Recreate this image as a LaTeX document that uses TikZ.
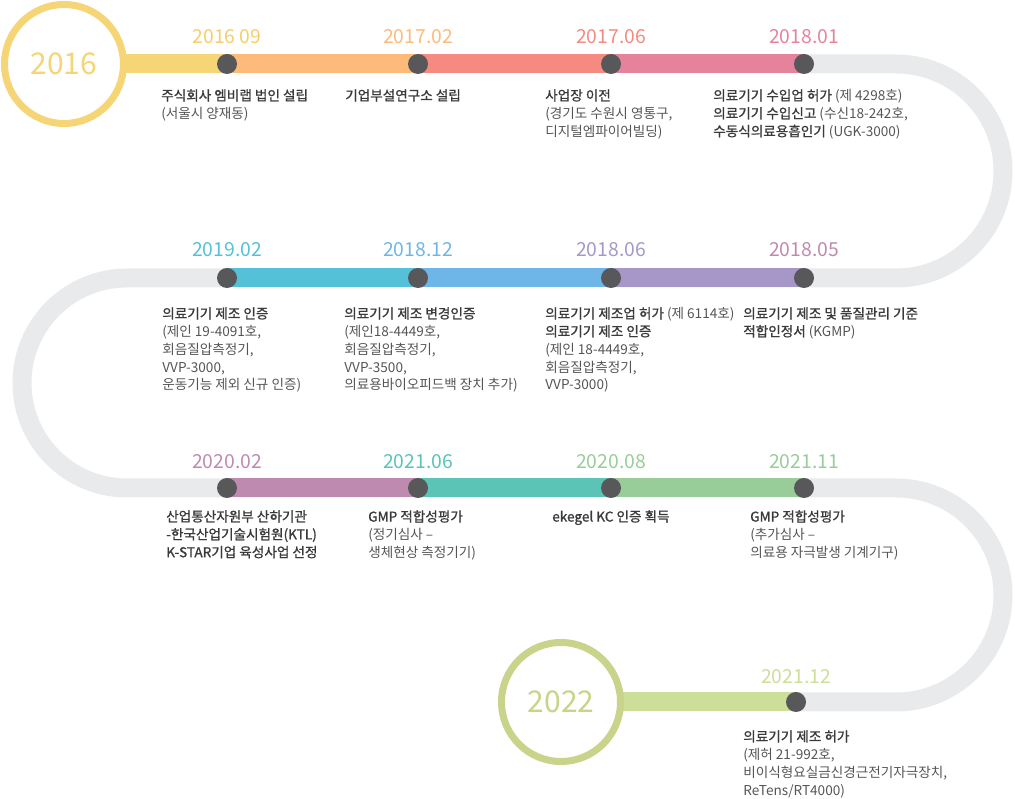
\documentclass[tikz,border=0pt]{standalone}
\usepackage{fontspec}
\usetikzlibrary{backgrounds}
\setmainfont{Noto Sans CJK KR}
\newfontfamily\kr{Noto Sans CJK KR}
\newfontfamily\krb[FakeBold=1.0]{Noto Sans CJK KR}
\definecolor{cyel}{HTML}{F5D576}
\definecolor{cora}{HTML}{FDBA78}
\definecolor{csal}{HTML}{F58A80}
\definecolor{cpnk}{HTML}{E5839C}
\definecolor{cgry}{HTML}{E9EAEC}
\definecolor{ccyn}{HTML}{54C1D8}
\definecolor{clbl}{HTML}{6DB6E7}
\definecolor{cpur}{HTML}{A797C9}
\definecolor{cmau}{HTML}{BF8AAF}
\definecolor{ctea}{HTML}{5BC4B7}
\definecolor{cgrn}{HTML}{98CD9A}
\definecolor{clim}{HTML}{CCDE98}
\definecolor{cring}{HTML}{CAD38A}
\definecolor{cdot}{HTML}{58585A}
\definecolor{ctitle}{HTML}{3A3A3A}
\definecolor{ctext}{HTML}{555555}
\newcommand\hb[1]{{\krb\color{ctitle}#1}}
\begin{document}
\begin{tikzpicture}[x=0.75pt,y=0.75pt,
  track/.style={line width=14.25pt,color=cgry},
  seg/.style={line width=14.25pt,color=#1},
  dot/.style={circle,fill=cdot,minimum size=15pt,inner sep=0},
  ring/.style={circle,draw=#1,fill=white,line width=5.25pt,minimum size=89.25pt,inner sep=0,text=#1,font=\fontsize{22.5}{24}\selectfont},
  date/.style={text=#1,font=\fontsize{14.5}{16}\selectfont,inner sep=0},
  desc/.style={font=\fontsize{10.2}{13.4}\selectfont\kr,text=ctext,align=left,anchor=north west,inner sep=0}]
\useasboundingbox (0,0) rectangle (1015,799);
% rings
\node[ring=cyel] (c2016) at (64,735) {2016};
\node[ring=cring] (c2022) at (561,97) {2022};
% dots
\node[dot] (d1) at (227,735) {};
\node[dot] (d2) at (418,735) {};
\node[dot] (d3) at (611,735) {};
\node[dot] (d4) at (804,735) {};
\node[dot] (d5) at (804,521) {};
\node[dot] (d6) at (611,521) {};
\node[dot] (d7) at (418,521) {};
\node[dot] (d8) at (227,521) {};
\node[dot] (d9) at (227,311) {};
\node[dot] (d10) at (418,311) {};
\node[dot] (d11) at (611,311) {};
\node[dot] (d12) at (804,311) {};
\node[dot] (d13) at (796,97) {};
\coordinate (r1) at (896,735);
\coordinate (l2) at (127,521);
\coordinate (r3) at (896,311);
\begin{scope}[on background layer]
\draw[track] (d4.center) -- (r1) arc[start angle=90,end angle=-90,radius=107]
  -- (l2) arc[start angle=90,end angle=270,radius=105]
  -- (r3) arc[start angle=90,end angle=-90,radius=107] -- (d13.center);
\draw[seg=cyel] (c2016.center) -- (d1.center);
\draw[seg=cora] (d1.center) -- (d2.center);
\draw[seg=csal] (d2.center) -- (d3.center);
\draw[seg=cpnk] (d3.center) -- (d4.center);
\draw[seg=cpur] (d5.center) -- (d6.center);
\draw[seg=clbl] (d6.center) -- (d7.center);
\draw[seg=ccyn] (d7.center) -- (d8.center);
\draw[seg=cmau] (d9.center) -- (d10.center);
\draw[seg=ctea] (d10.center) -- (d11.center);
\draw[seg=cgrn] (d11.center) -- (d12.center);
\draw[seg=clim] (c2022.center) -- (d13.center);
\end{scope}
% dates
\node[date=cyel!90!orange] (y1) at (227,762) {2016 09};
\node[date=cora] (y2) at (418,762) {2017.02};
\node[date=csal] (y3) at (611,762) {2017.06};
\node[date=cpnk] (y4) at (804,762) {2018.01};
\node[date=cmau] (y5) at (804,549) {2018.05};
\node[date=cpur] (y6) at (611,549) {2018.06};
\node[date=clbl] (y7) at (418,549) {2018.12};
\node[date=ccyn] (y8) at (227,549) {2019.02};
\node[date=cmau] (y9) at (227,337) {2020.02};
\node[date=ctea] (y10) at (418,337) {2021.06};
\node[date=cgrn] (y11) at (611,337) {2020.08};
\node[date=cgrn] (y12) at (804,337) {2021.11};
\node[date=clim] (y13) at (796,122) {2021.12};
% descriptions row 1
\node[desc] (t1) at (161,710) {\hb{주식회사 엠비랩 법인 설립}\\(서울시 양재동)};
\node[desc] (t2) at (345,710) {\hb{기업부설연구소 설립}};
\node[desc] (t3) at (545,710) {\hb{사업장 이전}\\(경기도 수원시 영통구,\\디지털엠파이어빌딩)};
\node[desc] (t4) at (713,710) {\hb{의료기기 수입업 허가} (제 4298호)\\\hb{의료기기 수입신고} (수신18-242호,\\\hb{수동식의료용흡인기} (UGK-3000)};
% row 2
\node[desc] (t5) at (743,492) {\hb{의료기기 제조 및 품질관리 기준}\\\hb{적합인정서} (KGMP)};
\node[desc] (t6) at (545,492) {\hb{의료기기 제조업 허가} (제 6114호)\\\hb{의료기기 제조 인증}\\(제인 18-4449호,\\회음질압측정기,\\VVP-3000)};
\node[desc] (t7) at (344,492) {\hb{의료기기 제조 변경인증}\\(제인18-4449호,\\회음질압측정기,\\VVP-3500,\\의료용바이오피드백 장치 추가)};
\node[desc] (t8) at (162,492) {\hb{의료기기 제조 인증}\\(제인 19-4091호,\\회음질압측정기,\\VVP-3000,\\운동기능 제외 신규 인증)};
% row 3
\node[desc] (t9) at (166,289) {\hb{산업통산자원부 산하기관}\\\hb{-한국산업기술시험원(KTL)}\\\hb{K-STAR기업 육성사업 선정}};
\node[desc] (t10) at (368,289) {\hb{GMP 적합성평가}\\(정기심사 –\\생체현상 측정기기)};
\node[desc] (t11) at (552,289) {\hb{ekegel KC 인증 획득}};
\node[desc] (t12) at (750,289) {\hb{GMP 적합성평가}\\(추가심사 –\\의료용 자극발생 기계기구)};
% row 4
\node[desc] (t13) at (743,69) {\hb{의료기기 제조 허가}\\(제허 21-992호,\\비이식형요실금신경근전기자극장치,\\ReTens/RT4000)};
\end{tikzpicture}
\end{document}
